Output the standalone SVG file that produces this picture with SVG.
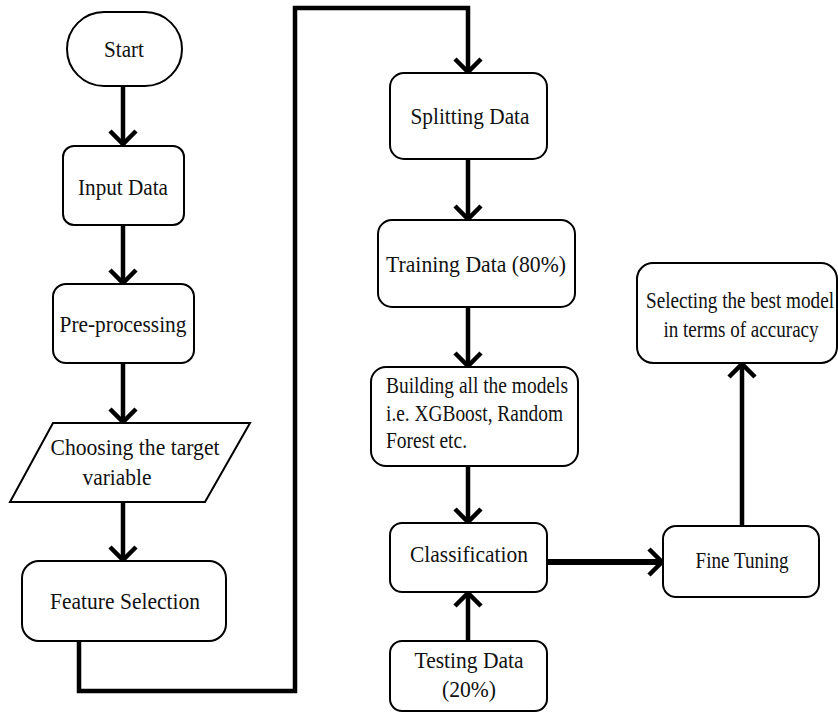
<svg xmlns="http://www.w3.org/2000/svg" width="838" height="713" viewBox="0 0 838 713">
  <style>
    .box { fill: #fff; stroke: #000; stroke-width: 2; }
    .lbl { font-size: 24px; fill: #111; }
    .mid { text-anchor: middle; }
    .edge { fill: none; stroke: #000; stroke-width: 4.5; }
    .head { fill: none; stroke: #000; stroke-width: 4.5; stroke-linejoin: miter; }
  </style>
  <defs>
    <!-- open chevron arrowhead, tip at origin, pointing +x -->
    <path id="chev" class="head" d="M -14 -13 L -1 0 L -14 13"/>
  </defs>

  <g id="connectors">
    <path class="edge" d="M 123 86 V 145"/>
    <use href="#chev" transform="translate(123 145) rotate(90)"/>
    <path class="edge" d="M 123 225 V 284"/>
    <use href="#chev" transform="translate(123 284) rotate(90)"/>
    <path class="edge" d="M 123 363 V 423"/>
    <use href="#chev" transform="translate(123 423) rotate(90)"/>
    <path class="edge" d="M 123 502 V 561"/>
    <use href="#chev" transform="translate(123 561) rotate(90)"/>
    <path class="edge" d="M 79 641 V 691 H 295 V 8 H 468 V 73"/>
    <use href="#chev" transform="translate(468 73) rotate(90)"/>
    <path class="edge" d="M 468 159 V 220"/>
    <use href="#chev" transform="translate(468 220) rotate(90)"/>
    <path class="edge" d="M 468 307 V 367"/>
    <use href="#chev" transform="translate(468 367) rotate(90)"/>
    <path class="edge" d="M 468 466 V 523"/>
    <use href="#chev" transform="translate(468 523) rotate(90)"/>
    <path class="edge" d="M 468 641 V 592"/>
    <use href="#chev" transform="translate(468 592) rotate(-90)"/>
    <path class="edge" style="stroke-width:6" d="M 547 562 H 663"/>
    <use href="#chev" transform="translate(663 562)"/>
    <path class="edge" d="M 742 526 V 363"/>
    <use href="#chev" transform="translate(742 363) rotate(-90)"/>
  </g>

  <g font-family="'Liberation Serif', 'Times New Roman', 'DejaVu Serif', serif">
  <g id="start">
    <rect class="box" x="67" y="12" width="115" height="74" rx="37"/>
    <text class="lbl mid" x="124" y="57" textLength="40" lengthAdjust="spacingAndGlyphs">Start</text>
  </g>
  <g id="input-data">
    <rect class="box" x="63" y="146" width="121" height="79" rx="11"/>
    <text class="lbl mid" x="123" y="195" textLength="90" lengthAdjust="spacingAndGlyphs">Input Data</text>
  </g>
  <g id="pre-processing">
    <rect class="box" x="53" y="284" width="141" height="79" rx="13"/>
    <text class="lbl mid" x="123" y="332" textLength="127" lengthAdjust="spacingAndGlyphs">Pre-processing</text>
  </g>
  <g id="target-variable">
    <polygon class="box" points="53,423 250,423 205,502 10,502"/>
    <text class="lbl mid" x="135" y="455" textLength="169" lengthAdjust="spacingAndGlyphs">Choosing the target</text>
    <text class="lbl mid" x="117" y="485" textLength="69" lengthAdjust="spacingAndGlyphs">variable</text>
  </g>
  <g id="feature-selection">
    <rect class="box" x="22" y="561" width="204" height="80" rx="17"/>
    <text class="lbl mid" x="125" y="609" textLength="150" lengthAdjust="spacingAndGlyphs">Feature Selection</text>
  </g>
  <g id="splitting-data">
    <rect class="box" x="390" y="73" width="157" height="86" rx="14"/>
    <text class="lbl mid" x="470" y="124" textLength="119" lengthAdjust="spacingAndGlyphs">Splitting Data</text>
  </g>
  <g id="training-data">
    <rect class="box" x="378" y="220" width="197" height="87" rx="14"/>
    <text class="lbl mid" x="476" y="272" textLength="180" lengthAdjust="spacingAndGlyphs">Training Data (80%)</text>
  </g>
  <g id="building-models">
    <rect class="box" x="371" y="367" width="207" height="99" rx="15"/>
    <text class="lbl" x="386" y="393" textLength="182" lengthAdjust="spacingAndGlyphs">Building all the models</text>
    <text class="lbl" x="386" y="421" textLength="177" lengthAdjust="spacingAndGlyphs">i.e. XGBoost, Random</text>
    <text class="lbl" x="386" y="448" textLength="81" lengthAdjust="spacingAndGlyphs">Forest etc.</text>
  </g>
  <g id="classification">
    <rect class="box" x="390" y="523" width="157" height="69" rx="12"/>
    <text class="lbl mid" x="469" y="562" textLength="118" lengthAdjust="spacingAndGlyphs">Classification</text>
  </g>
  <g id="testing-data">
    <rect class="box" x="390" y="641" width="157" height="70" rx="12"/>
    <text class="lbl mid" x="469" y="668" textLength="109" lengthAdjust="spacingAndGlyphs">Testing Data</text>
    <text class="lbl mid" x="469" y="697" textLength="54" lengthAdjust="spacingAndGlyphs">(20%)</text>
  </g>
  <g id="fine-tuning">
    <rect class="box" x="663" y="526" width="156" height="71" rx="13"/>
    <text class="lbl mid" x="742" y="568" textLength="93" lengthAdjust="spacingAndGlyphs">Fine Tuning</text>
  </g>
  <g id="best-model">
    <rect class="box" x="637" y="263" width="200" height="100" rx="16"/>
    <!-- narrowed horizontally so both lines sit inside the box -->
    <text class="lbl mid" x="0" y="0" transform="translate(740 308) scale(0.8 1)" textLength="235" lengthAdjust="spacingAndGlyphs">Selecting the best model</text>
    <text class="lbl mid" x="0" y="0" transform="translate(741 337) scale(0.8 1)" textLength="194" lengthAdjust="spacingAndGlyphs">in terms of accuracy</text>
  </g>
  </g>
</svg>
